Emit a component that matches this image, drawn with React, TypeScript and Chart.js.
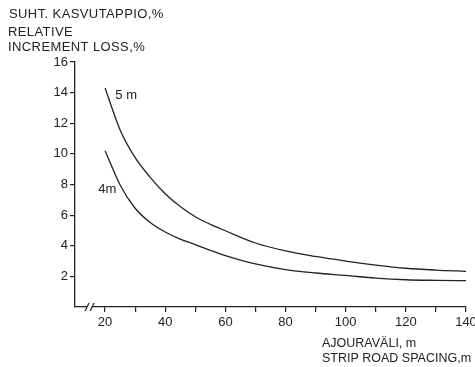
import { useEffect, useRef } from "react";
import { Chart, registerables } from "chart.js";

Chart.register(...registerables);

const spacing = [20, 25, 30, 35, 40, 45, 50, 55, 60, 70, 80, 90, 100, 110, 120, 130, 140];
const loss5m = [14.3, 11.56, 9.75, 8.47, 7.4, 6.56, 5.89, 5.4, 4.98, 4.18, 3.66, 3.3, 3.0, 2.74, 2.53, 2.41, 2.33];
const loss4m = [10.2, 7.97, 6.45, 5.52, 4.9, 4.43, 4.08, 3.7, 3.36, 2.81, 2.44, 2.22, 2.06, 1.89, 1.78, 1.74, 1.72];
const seriesNames = ["5 m", "4m"];
const seriesLabelAt = [
  [27, 13.8],
  [20.7, 7.7],
];
const yTitleLines = ["SUHT. KASVUTAPPIO,%", "RELATIVE", "INCREMENT LOSS,%"];
const xTitleLines = ["AJOURAVÄLI, m", "STRIP ROAD SPACING,m"];

const INK = "#222";
const FAMILY = '"Liberation Sans", Arial, sans-serif';

const decorPlugin = {
  id: "decor",
  afterDraw(chart: any) {
    const ctx = chart.ctx;
    const xs = chart.scales.x;
    const ys = chart.scales.y;
    ctx.save();
    ctx.fillStyle = INK;
    ctx.strokeStyle = INK;
    ctx.textBaseline = "alphabetic";
    ctx.textAlign = "left";
    // axis titles
    ctx.font = "13px " + FAMILY;
    (ctx as any).letterSpacing = "0.4px";
    const yPos = [18, 36, 51];
    const yX = [9, 8, 8];
    yTitleLines.forEach((t, i) => ctx.fillText(t, yX[i], yPos[i]));
    (ctx as any).letterSpacing = "0px";
    ctx.font = "12.5px " + FAMILY;
    const xPos = [347, 362];
    xTitleLines.forEach((t, i) => ctx.fillText(t, 322, xPos[i]));
    // series labels
    ctx.font = "13px " + FAMILY;
    ctx.textAlign = "center";
    ctx.textBaseline = "middle";
    seriesNames.forEach((n, i) => {
      ctx.fillText(n, xs.getPixelForValue(seriesLabelAt[i][0]), ys.getPixelForValue(seriesLabelAt[i][1]));
    });
    // axis break marks
    const ay = ys.getPixelForValue(0);
    const b1 = xs.getPixelForValue(14.0);
    const b2 = xs.getPixelForValue(15.7);
    ctx.fillStyle = "#fff";
    ctx.fillRect(b1, ay - 2, b2 - b1, 4);
    ctx.lineWidth = 1.2;
    ctx.beginPath();
    ctx.moveTo(b1 - 2, ay + 4);
    ctx.lineTo(b1 + 2, ay - 4);
    ctx.moveTo(b2 - 2, ay + 4);
    ctx.lineTo(b2 + 2, ay - 4);
    ctx.stroke();
    ctx.restore();
  },
};

export default function App() {
  const ref = useRef<HTMLCanvasElement | null>(null);
  useEffect(() => {
    if (!ref.current) return;
    const chart = new Chart(ref.current, {
      type: "line",
      data: {
        datasets: [
          {
            label: seriesNames[0],
            data: spacing.map((x, i) => ({ x, y: loss5m[i] })),
            borderColor: INK,
            borderWidth: 1.3,
            pointRadius: 0,
            cubicInterpolationMode: "monotone",
            fill: false,
          },
          {
            label: seriesNames[1],
            data: spacing.map((x, i) => ({ x, y: loss4m[i] })),
            borderColor: INK,
            borderWidth: 1.3,
            pointRadius: 0,
            cubicInterpolationMode: "monotone",
            fill: false,
          },
        ],
      },
      options: {
        responsive: false,
        animation: false,
        layout: { padding: { top: 62, right: 9, left: 0, bottom: 0 } },
        plugins: { legend: { display: false }, tooltip: { enabled: false } },
        scales: {
          x: {
            type: "linear",
            min: 10,
            max: 140,
            afterFit: (s: any) => {
              s.height = 60;
              s.paddingLeft = 0;
              s.paddingRight = 0;
            },
            ticks: {
              stepSize: 10,
              autoSkip: false,
              maxRotation: 0,
              padding: 3,
              color: INK,
              font: { family: FAMILY, size: 13 },
              callback: (v: any) => (v % 20 === 0 ? String(v) : ""),
            },
            grid: {
              drawOnChartArea: false,
              drawTicks: true,
              tickLength: 5,
              lineWidth: 1.2,
              color: (c: any) => (c.tick && c.tick.value === 10 ? "rgba(0,0,0,0)" : INK),
            },
            border: { display: true, color: INK, width: 1.3 },
          },
          y: {
            min: 0,
            max: 16,
            afterFit: (s: any) => {
              s.width = 75;
              s.paddingTop = 0;
              s.paddingBottom = 0;
            },
            ticks: {
              stepSize: 2,
              padding: 2,
              color: INK,
              font: { family: FAMILY, size: 13 },
              callback: (v: any) => (v === 0 ? "" : String(v)),
            },
            grid: {
              drawOnChartArea: false,
              drawTicks: true,
              tickLength: 5,
              lineWidth: 1.2,
              color: (c: any) => (c.tick && c.tick.value === 0 ? "rgba(0,0,0,0)" : INK),
            },
            border: { display: true, color: INK, width: 1.3 },
          },
        },
      },
      plugins: [decorPlugin],
    });
    return () => chart.destroy();
  }, []);
  return (
    <div style={{ position: "absolute", left: 0, top: 0, width: 475, height: 367, background: "#fff" }}>
      <canvas ref={ref} width={475} height={367} style={{ display: "block" }} />
    </div>
  );
}
